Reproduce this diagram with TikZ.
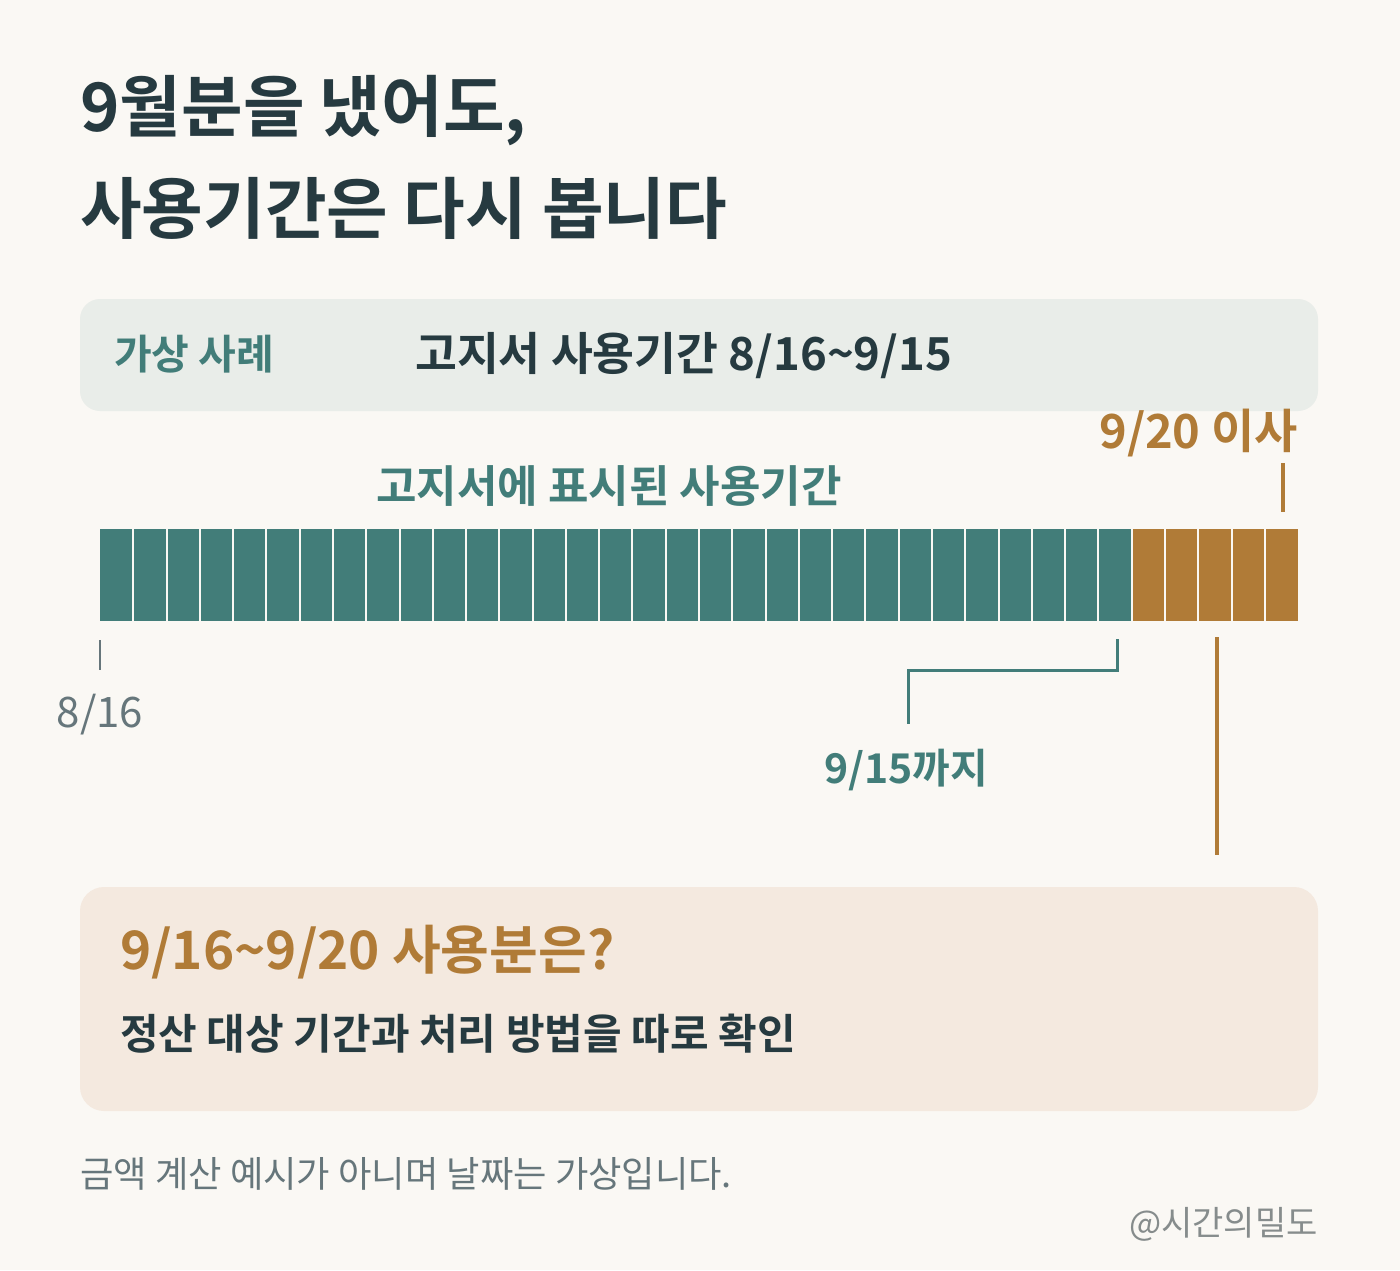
\documentclass[tikz,border=0pt]{standalone}
\usepackage{fontspec}
\newfontfamily\krreg{Noto Sans CJK KR}
\newfontfamily\krbold{Noto Sans CJK KR Bold}
\definecolor{bgcream}{HTML}{FAF8F4}
\definecolor{inkdark}{HTML}{263A40}
\definecolor{tealbar}{HTML}{427D79}
\definecolor{brownbar}{HTML}{B07B37}
\definecolor{boxgreen}{HTML}{E9EDE9}
\definecolor{boxbeige}{HTML}{F4E9DF}
\definecolor{notegray}{HTML}{66767B}
\definecolor{handlegray}{HTML}{868C8C}

\begin{document}
\begin{tikzpicture}[x=1pt, y=-1pt,
  lbl/.style={inner sep=0pt, anchor=base west},
  cell/.style={draw=bgcream, line width=2pt}]
  % background and page size
  \fill[bgcream] (0,0) rectangle (1400,1270);
  \useasboundingbox (0,0) rectangle (1400,1270);
  % title
  \node[lbl, text=inkdark, font=\krbold\fontsize{67}{80}\selectfont] (title1) at (80,131) {9월분을 냈어도,};
  \node[lbl, text=inkdark, font=\krbold\fontsize{67}{80}\selectfont] (title2) at (80,233) {사용기간은 다시 봅니다};
  % case box
  \fill[boxgreen, rounded corners=20pt] (80,299) rectangle (1318,411);
  \node[lbl, text=tealbar, font=\krbold\fontsize{41}{48}\selectfont] (casetag) at (114,369) {가상 사례};
  \node[lbl, text=inkdark, font=\krbold\fontsize{45.5}{52}\selectfont] (casetext) at (415,370) {고지서 사용기간 8/16\textasciitilde 9/15};
  % labels above the bar
  \node[inner sep=0pt, anchor=base east, text=brownbar, font=\krbold\fontsize{47}{54}\selectfont] (moveday) at (1298,448) {9/20 이사};
  \node[inner sep=0pt, anchor=base, text=tealbar, font=\krbold\fontsize{44}{52}\selectfont] (billed) at (609,502) {고지서에 표시된 사용기간};
  % day cells
  \foreach \i in {0,...,30}
    \fill[tealbar] ({100+\i*33.28},529) rectangle ({100+(\i+1)*33.28},621);
  \foreach \i in {31,...,35}
    \fill[brownbar] ({100+\i*33.28},529) rectangle ({100+(\i+1)*33.28},621);
  \foreach \i in {1,...,35}
    \draw[cell] ({100+\i*33.28},529) -- ({100+\i*33.28},621);
  % ticks
  \coordinate (startA) at (100,640);
  \coordinate (startB) at (100,670);
  \draw[notegray, line width=2pt] (startA) -- (startB);
  \node[inner sep=0pt, anchor=base, text=notegray, font=\krreg\fontsize{42}{50}\selectfont] (startday) at (100,727) {8/16};
  \coordinate (endA) at (1117,639);
  \coordinate (endB) at (1117,670);
  \coordinate (endC) at (908,670);
  \coordinate (endD) at (908,724);
  \draw[tealbar, line width=3pt] (endA) -- (endB) -- (endC) -- (endD);
  \node[inner sep=0pt, anchor=base, text=tealbar, font=\krbold\fontsize{41}{48}\selectfont] (endday) at (906,783) {9/15까지};
  \coordinate (moveA) at (1283,463);
  \coordinate (moveB) at (1283,512);
  \draw[brownbar, line width=3.5pt] (moveA) -- (moveB);
  \coordinate (gapA) at (1217,637);
  \coordinate (gapB) at (1217,855);
  \draw[brownbar, line width=4pt] (gapA) -- (gapB);
  % question box
  \fill[boxbeige, rounded corners=24pt] (80,887) rectangle (1318,1111);
  \node[lbl, text=brownbar, font=\krbold\fontsize{53}{62}\selectfont] (question) at (120,969) {9/16\textasciitilde 9/20 사용분은?};
  \node[lbl, text=inkdark, font=\krbold\fontsize{42}{50}\selectfont] (answer) at (120,1049) {정산 대상 기간과 처리 방법을 따로 확인};
  % footer
  \node[lbl, text=notegray, font=\krreg\fontsize{36.3}{42}\selectfont] (note) at (80,1187) {금액 계산 예시가 아니며 날짜는 가상입니다.};
  \node[inner sep=0pt, anchor=base east, text=handlegray, font=\krreg\fontsize{34}{40}\selectfont] (handle) at (1318,1235) {@시간의밀도};
\end{tikzpicture}
\end{document}
